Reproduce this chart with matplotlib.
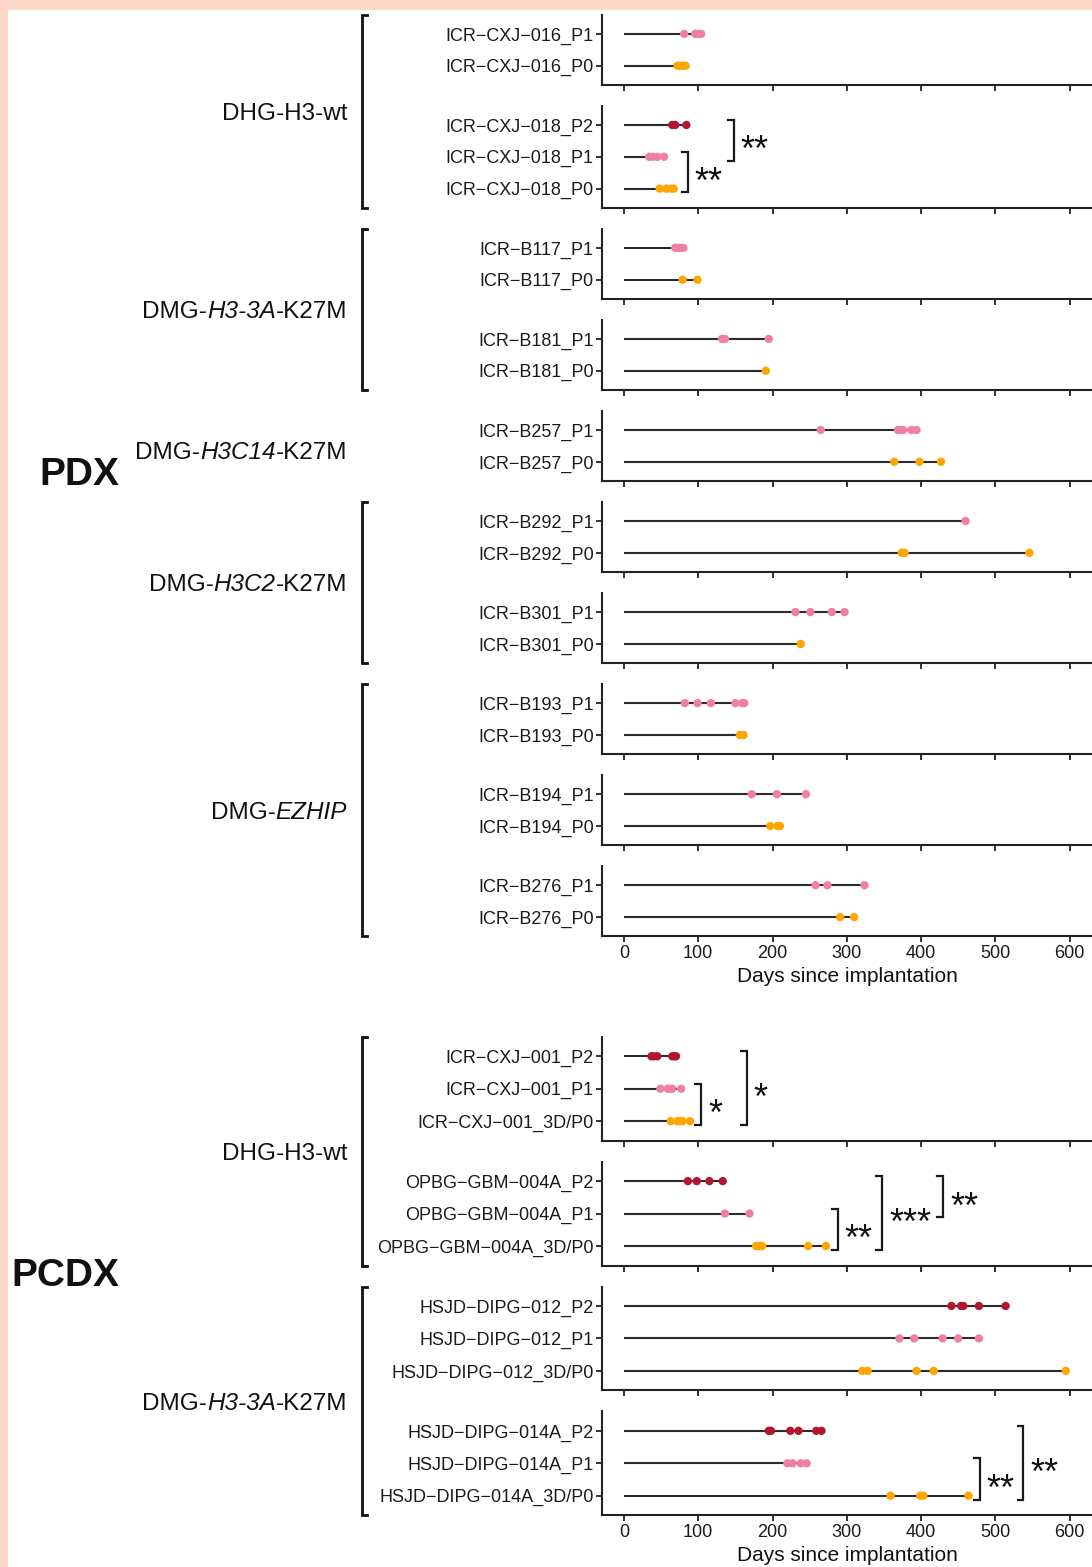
import matplotlib
matplotlib.use("Agg")
import matplotlib.pyplot as plt
from matplotlib.lines import Line2D
from matplotlib.patches import Rectangle

plt.rcParams['font.family'] = ['Liberation Sans', 'DejaVu Sans']

# ---------------- data ----------------
# PDX models (days since implantation of each mouse, per passage)
CXJ016 = {"P1": [81, 96, 100, 104], "P0": [72, 76, 80, 83]}
CXJ018 = {"P2": [65, 69, 84], "P1": [34, 39, 45, 54], "P0": [48, 57, 63, 67]}
B117 = {"P1": [69, 72, 76, 80], "P0": [79, 99]}
B181 = {"P1": [132, 136, 195], "P0": [191]}
B257 = {"P1": [265, 369, 372, 376, 387, 394], "P0": [364, 398, 427]}
B292 = {"P1": [460], "P0": [374, 378, 546]}
B301 = {"P1": [231, 251, 280, 297], "P0": [238]}
B193 = {"P1": [82, 99, 117, 150, 159, 162], "P0": [156, 161]}
B194 = {"P1": [172, 206, 245], "P0": [197, 207, 210]}
B276 = {"P1": [258, 274, 324], "P0": [291, 310]}
# PCDX models
CXJ001 = {"P2": [37, 40, 45, 65, 68, 70], "P1": [49, 59, 62, 65, 77], "P0": [63, 72, 75, 79, 89]}
OPBG004A = {"P2": [86, 98, 115, 133], "P1": [136, 169], "P0": [178, 182, 186, 248, 272]}
HSJD012 = {"P2": [441, 454, 457, 478, 514], "P1": [371, 391, 429, 450, 478], "P0": [321, 328, 394, 417, 595]}
HSJD014A = {"P2": [195, 198, 224, 235, 259, 266], "P1": [220, 227, 238, 246], "P0": [359, 399, 403, 464]}

pdx_models = ["ICR\u2212CXJ\u2212016", "ICR\u2212CXJ\u2212018", "ICR\u2212B117", "ICR\u2212B181", "ICR\u2212B257",
              "ICR\u2212B292", "ICR\u2212B301", "ICR\u2212B193", "ICR\u2212B194", "ICR\u2212B276"]
pdx_data = [CXJ016, CXJ018, B117, B181, B257, B292, B301, B193, B194, B276]
pcdx_models = ["ICR\u2212CXJ\u2212001", "OPBG\u2212GBM\u2212004A", "HSJD\u2212DIPG\u2212012", "HSJD\u2212DIPG\u2212014A"]
pcdx_data = [CXJ001, OPBG004A, HSJD012, HSJD014A]

# groups: (label parts, first panel index, last panel index, bracket?)
pdx_groups = [([("DHG-H3-wt", "normal")], 0, 1, True),
              ([("DMG-", "normal"), ("H3-3A", "italic"), ("-K27M", "normal")], 2, 3, True),
              ([("DMG-", "normal"), ("H3C14", "italic"), ("-K27M", "normal")], 4, 4, False),
              ([("DMG-", "normal"), ("H3C2", "italic"), ("-K27M", "normal")], 5, 6, True),
              ([("DMG-", "normal"), ("EZHIP", "italic")], 7, 9, True)]
pcdx_groups = [([("DHG-H3-wt", "normal")], 0, 1, True),
               ([("DMG-", "normal"), ("H3-3A", "italic"), ("-K27M", "normal")], 2, 3, True)]

# significance: (panel index, x position in days, lower passage row, upper passage row, label)
pdx_sig = [(1, 86, 0, 1, "**"), (1, 148, 1, 2, "**")]
pcdx_sig = [(0, 104, 0, 1, "*"), (0, 165, 0, 2, "*"),
            (1, 288, 0, 1, "**"), (1, 348, 0, 2, "***"), (1, 430, 1, 2, "**"),
            (3, 479, 0, 1, "**"), (3, 538, 0, 2, "**")]

colors = {"P0": "#FFA500", "P1": "#F07FA6", "P2": "#B3172F"}
xticks = [0, 100, 200, 300, 400, 500, 600]
xlabel = "Days since implantation"

# ---------------- layout ----------------
W, H = 1092, 1567
fig = plt.figure(figsize=(W / 100, H / 100), dpi=100)
fig.patch.set_facecolor("#FCD9C6")
fig.patches.append(Rectangle((8 / W, 0), 1, 1 - 10 / H, transform=fig.transFigure,
                             facecolor="white", edgecolor="none", zorder=-10))

AX_L, AX_R = 602, 1092
X0_PX, PX_PER_DAY = 624, 0.7425
XLIM = ((AX_L - X0_PX) / PX_PER_DAY, (AX_R - X0_PX) / PX_PER_DAY)
GAP = 21
DARK = "#222222"


def fx(px):
    return px / W


def fy(py):
    return 1 - py / H


def rich_text(x_right, y_base, parts, fs):
    r = fig.canvas.get_renderer()
    objs, widths = [], []
    for s, st in parts:
        t = fig.text(0, 0, s, fontsize=fs, style=st, va="baseline", ha="left", color="#111111")
        widths.append(t.get_window_extent(r).width)
        objs.append(t)
    x = x_right - sum(widths)
    for t, w in zip(objs, widths):
        t.set_position((fx(x), fy(y_base)))
        x += w


def build_block(models, data, groups, sig, top, bottom, block_label, label_y):
    nrows = [len(d) for d in data]
    n_p = len(models)
    unit = (bottom - top - GAP * (n_p - 1)) / sum(n + 0.2 for n in nrows)
    axes, tops, bots = [], [], []
    y = top
    for i, (m, d) in enumerate(zip(models, data)):
        h = (nrows[i] + 0.2) * unit
        ax = fig.add_axes([fx(AX_L), fy(y + h), fx(AX_R) - fx(AX_L), h / H])
        tops.append(y)
        bots.append(y + h)
        y += h + GAP
        passages = sorted(d.keys())  # P0, P1, P2
        labels = []
        for r, p in enumerate(passages):
            vals = d[p]
            ax.plot([0, max(vals)], [r, r], color="#2b2b2b", lw=1.5, zorder=2, solid_capstyle="butt")
            ax.scatter(vals, [r] * len(vals), s=36, color=colors[p], edgecolors="none", zorder=3)
            lab = p
            if block_label == "PCDX" and p == "P0":
                lab = "3D/P0"
            labels.append(f"{m}_{lab}")
        ax.set_ylim(-0.6, len(passages) - 0.4)
        ax.set_xlim(*XLIM)
        ax.set_yticks(range(len(passages)))
        ax.set_yticklabels(labels, fontsize=13, color="#1a1a1a")
        ax.set_xticks(xticks)
        ax.tick_params(axis="both", length=4, width=1.3, color=DARK, pad=2)
        if i == n_p - 1:
            ax.set_xticklabels([str(v) for v in xticks], fontsize=13, color="#1a1a1a")
            ax.set_xlabel(xlabel, fontsize=15, color="#111111", labelpad=4)
        else:
            ax.set_xticklabels([])
        for s in ("top", "right"):
            ax.spines[s].set_visible(False)
        for s in ("left", "bottom"):
            ax.spines[s].set_color(DARK)
            ax.spines[s].set_linewidth(1.5)
        ax.patch.set_alpha(0)
        axes.append(ax)

    # significance brackets
    for pi, xd, lo, hi, lab in sig:
        ax = axes[pi]
        stub = 8
        y0, y1 = lo - 0.12, hi + 0.15
        ax.plot([xd - stub, xd, xd, xd - stub], [y0, y0, y1, y1], color="#1a1a1a", lw=1.6, zorder=4,
                solid_joinstyle="miter")
        fs = 26
        ax.annotate(lab, xy=(xd, (lo + hi) / 2 + 0.02), xytext=(5, -0.58 * fs), textcoords="offset points",
                    ha="left", va="baseline", fontsize=fs, color="#111111")

    # group labels & brackets
    for parts, g0, g1, br in groups:
        gt, gb = tops[g0], bots[g1]
        rich_text(347, (gt + gb) / 2 + 8.7 + (4 if not br else 0), parts, 17.5)
        if br:
            fig.add_artist(Line2D([fx(367), fx(362), fx(362), fx(367)], [fy(gt), fy(gt), fy(gb), fy(gb)],
                                  transform=fig.transFigure, color="#111111", lw=2.0, solid_joinstyle="miter"))
    fig.text(fx(119), fy(label_y), block_label, fontsize=28, fontweight="bold", ha="right", va="center",
             color="#111111")


build_block(pdx_models, pdx_data, pdx_groups, pdx_sig, 14.8, 936.2, "PDX", 475)
build_block(pcdx_models, pcdx_data, pcdx_groups, pcdx_sig, 1036.8, 1515.2, "PCDX", 1276)

fig.savefig("out.png", dpi=100, facecolor=fig.get_facecolor())
